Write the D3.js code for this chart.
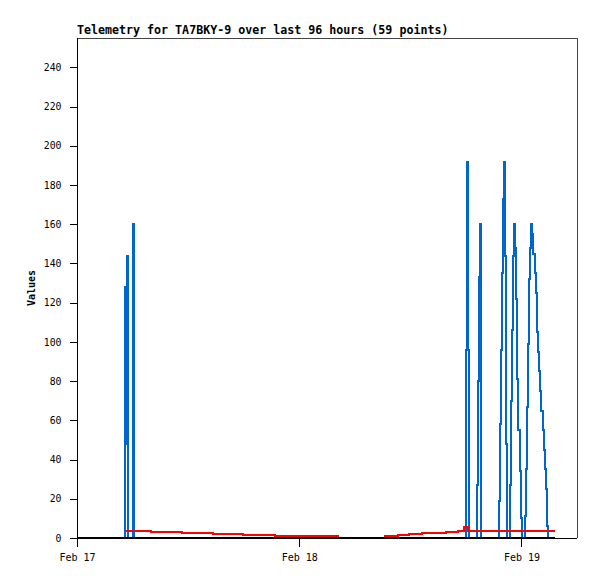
<!DOCTYPE html>
<html><head><meta charset="utf-8">
<script src="https://cdn.jsdelivr.net/npm/d3@7"></script>
<style>
html,body{margin:0;padding:0;background:#fff;}
svg{display:block;}
text{font-family:"DejaVu Sans Mono",monospace;fill:#000;}
</style></head>
<body>
<svg id="c" width="597" height="579"></svg>
<script>
const titleText = "Telemetry for TA7BKY-9 over last 96 hours (59 points)";
const yLabel = "Values";
const xDomain = ["2024-02-17T00:00", "2024-02-19T06:00"];
const yDomain = [0, 255];
const yTicks = [0,20,40,60,80,100,120,140,160,180,200,220,240];

const blueTimes = [
 "2024-02-17T05:08","2024-02-17T05:13","2024-02-17T05:19","2024-02-17T05:24","2024-02-17T05:30",
 "2024-02-17T06:05","2024-02-17T06:11",
 "2024-02-18T18:00","2024-02-18T18:05","2024-02-18T18:11","2024-02-18T18:18",
 "2024-02-18T19:11","2024-02-18T19:18","2024-02-18T19:25","2024-02-18T19:31","2024-02-18T19:38",
 "2024-02-18T21:33","2024-02-18T21:40","2024-02-18T21:47","2024-02-18T21:53","2024-02-18T22:00",
 "2024-02-18T22:06","2024-02-18T22:12","2024-02-18T22:18","2024-02-18T22:24",
 "2024-02-18T22:45","2024-02-18T22:53","2024-02-18T22:59","2024-02-18T23:05","2024-02-18T23:11",
 "2024-02-18T23:17","2024-02-18T23:23","2024-02-18T23:31","2024-02-18T23:40","2024-02-18T23:48",
 "2024-02-18T23:56","2024-02-19T00:04",
 "2024-02-19T00:24","2024-02-19T00:30","2024-02-19T00:37","2024-02-19T00:43","2024-02-19T00:50",
 "2024-02-19T00:56","2024-02-19T01:03","2024-02-19T01:11","2024-02-19T01:18","2024-02-19T01:25",
 "2024-02-19T01:33","2024-02-19T01:38","2024-02-19T01:44","2024-02-19T01:50","2024-02-19T01:56",
 "2024-02-19T02:03","2024-02-19T02:09","2024-02-19T02:17","2024-02-19T02:24","2024-02-19T02:31",
 "2024-02-19T02:37","2024-02-19T02:44","2024-02-19T02:48","2024-02-19T02:54","2024-02-19T03:40"
];
const blueValues = [
 0,128,48,144,0,
 160,0,
 96,192,96,0,
 27,80,133,160,0,
 19,58,96,135,173,
 192,144,48,0,
 27,70,106,144,160,
 148,122,81,55,34,
 10,0,
 11,35,67,99,132,
 148,160,155,145,135,
 125,115,105,95,85,
 75,65,55,45,35,
 25,15,6,0,0
];

const redTimes = [
 "2024-02-17T05:11","2024-02-17T07:58","2024-02-17T11:19","2024-02-17T14:40","2024-02-17T17:57",
 "2024-02-17T21:24","2024-02-18T00:50","2024-02-18T04:11","2024-02-18T09:18","2024-02-18T10:40",
 "2024-02-18T11:53","2024-02-18T13:16","2024-02-18T14:29","2024-02-18T15:51","2024-02-18T17:09",
 "2024-02-18T17:48","2024-02-18T18:13","2024-02-19T03:40"
];
const redValues = [3.7,3.1,2.6,2.2,1.7,1.2,0.9,0,1.2,1.5,2.0,2.4,2.7,3.1,3.6,5.8,3.7,3.7];

const blackTimes = ["2024-02-16T00:00","2024-02-19T03:40"];
const blackValues = [0,0];

const parse = d3.timeParse("%Y-%m-%dT%H:%M");
const svg = d3.select("#c");
const L=77, R=577, T=38, B=538;
const x = d3.scaleTime().domain(xDomain.map(parse)).range([L,R]);
const y = d3.scaleLinear().domain(yDomain).range([B,T]);

svg.append("defs").append("clipPath").attr("id","clip")
  .append("rect").attr("x",L).attr("y",T-2).attr("width",R-L).attr("height",B-T+4);

svg.append("path").attr("d",`M${L},${T+0.5}H${R+0.5}V${B}`)
  .attr("fill","none").attr("stroke","#444").attr("stroke-width",1).attr("shape-rendering","crispEdges");

const line = d3.line().curve(d3.curveStepAfter).x(d=>x(d[0])).y(d=>y(d[1]));
const g = svg.append("g").attr("clip-path","url(#clip)");
function series(times, vals, color, w){
  const data = times.map((t,i)=>[parse(t), vals[i]]);
  g.append("path").datum(data).attr("d",line).attr("fill","none")
   .attr("stroke",color).attr("stroke-width",w).attr("shape-rendering","crispEdges");
}
series(blueTimes, blueValues, "#0066cc", 2);
series(redTimes, redValues, "#ff0000", 2);
series(blackTimes, blackValues, "#000000", 2);

const yAxis = d3.axisLeft(y).tickValues(yTicks).tickSize(8).tickPadding(8);
const ya = svg.append("g").attr("transform",`translate(${L+0.5},0)`).call(yAxis);
const xAxis = d3.axisBottom(x).ticks(d3.timeDay.every(1)).tickFormat(d3.timeFormat("%b %d")).tickSize(8).tickPadding(7);
const xa = svg.append("g").attr("transform",`translate(0,${B+0.5})`).call(xAxis);
[ya,xa].forEach(a=>{
  a.selectAll(".domain").attr("stroke","#000").attr("shape-rendering","crispEdges");
  a.selectAll(".tick line").attr("stroke","#000").attr("shape-rendering","crispEdges");
});
ya.select(".domain").attr("d",`M-0,${T}V${B}`);
xa.select(".domain").attr("d",`M${L},0H${R}`);
ya.selectAll(".tick text").attr("font-family","'DejaVu Sans Mono',monospace").attr("font-size","9.8px").attr("fill","#000");
xa.selectAll(".tick text").attr("font-family","'DejaVu Sans Mono',monospace").attr("font-size","10px").attr("fill","#000");

svg.append("text").attr("x",L).attr("y",34).attr("font-size","11.65px").attr("font-weight","bold").text(titleText);
svg.append("text").attr("transform",`translate(35,${(T+B)/2})rotate(-90)`).attr("text-anchor","middle")
  .attr("font-size","10px").attr("font-weight","bold").text(yLabel);
</script>
</body></html>
